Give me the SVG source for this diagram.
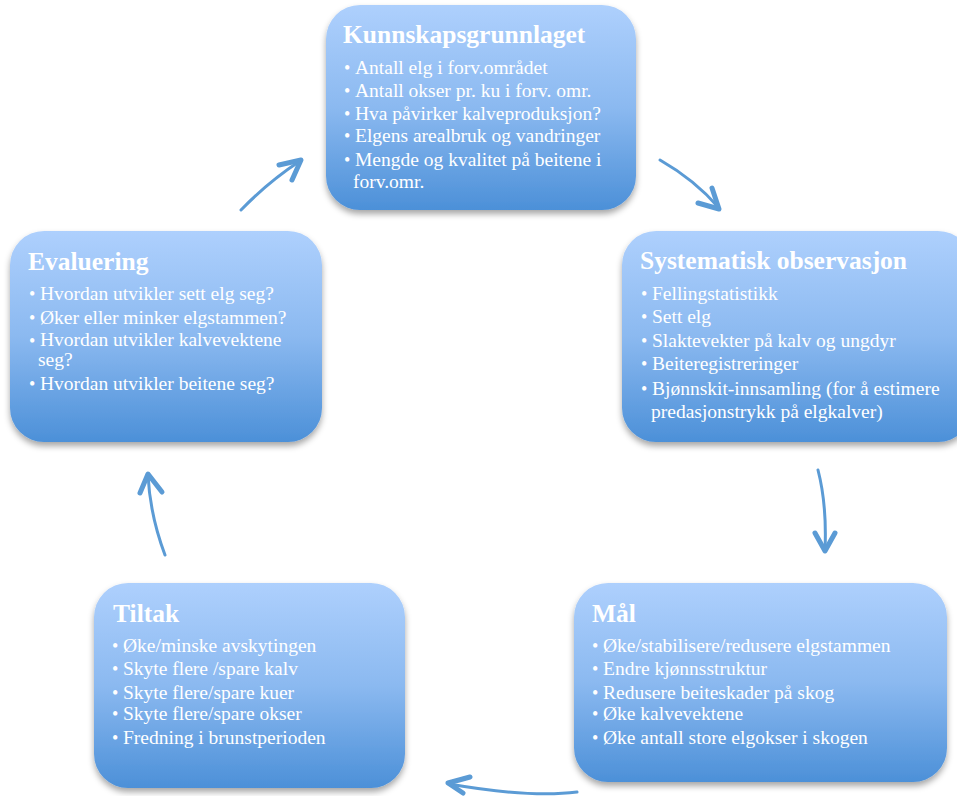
<svg xmlns="http://www.w3.org/2000/svg" width="957" height="796" viewBox="0 0 957 796">
<defs>
<linearGradient id="g" x1="0" y1="0" x2="0" y2="1">
<stop offset="0" stop-color="#aed0fd"/>
<stop offset="0.5" stop-color="#8bb9f0"/>
<stop offset="1" stop-color="#4c90d8"/>
</linearGradient>
<filter id="sh" x="-10%" y="-10%" width="120%" height="125%">
<feDropShadow dx="0" dy="4" stdDeviation="3" flood-color="#000" flood-opacity="0.35"/>
</filter>
<style>
.box{fill:url(#g);filter:url(#sh)}
.t{font-family:"Liberation Serif","DejaVu Serif",serif;font-weight:bold;font-size:25.5px;fill:#fff}
.b{font-family:"Liberation Serif","DejaVu Serif",serif;font-size:19.5px;fill:#fff}
.d{font-family:"Liberation Serif","DejaVu Serif",serif;font-size:18px;fill:#fff}
.a{fill:none;stroke:#5b9bd5;stroke-width:3;stroke-linecap:round;stroke-linejoin:round}
.h{fill:none;stroke:#5b9bd5;stroke-width:5;stroke-linecap:round;stroke-linejoin:round}
</style>
</defs>
<rect width="957" height="796" fill="#fff"/>
<g id="connectors">
<path class="a" d="M241,210 Q268,182 300,161"/>
<path class="h" d="M279,165 L301,160 L292,180"/>
<path class="a" d="M660,160 Q695,180 719,208"/>
<path class="h" d="M698,203 L719,209 L712,188"/>
<path class="a" d="M818,470 Q827,505 825,550"/>
<path class="h" d="M815,533 L825,551 L835,533"/>
<path class="a" d="M577,792 Q530,798 449,784"/>
<path class="h" d="M470,777 L448,783 L463,793"/>
<path class="a" d="M165,555 Q150,515 148,475"/>
<path class="h" d="M140,493 L148,474 L162,492"/>
</g>
<g id="kunnskapsgrunnlaget">
<rect class="box" x="326" y="5" width="310" height="205" rx="34"/>
<text class="t" x="343" y="43">Kunnskapsgrunnlaget</text>
<text class="d"><tspan x="344" y="74">•</tspan><tspan x="344" y="97">•</tspan><tspan x="344" y="120">•</tspan><tspan x="344" y="142">•</tspan><tspan x="344" y="166">•</tspan></text>
<text class="b"><tspan x="355" y="74">Antall elg i forv.området</tspan><tspan x="355" y="97">Antall okser pr. ku i forv. omr.</tspan><tspan x="355" y="120">Hva påvirker kalveproduksjon?</tspan><tspan x="355" y="142">Elgens arealbruk og vandringer</tspan><tspan x="355" y="166">Mengde og kvalitet på beitene i</tspan><tspan x="353" y="188">forv.omr.</tspan></text>
</g>
<g id="systematisk">
<rect class="box" x="622" y="231" width="350" height="211" rx="34"/>
<text class="t" x="640" y="269">Systematisk observasjon</text>
<text class="d"><tspan x="641" y="300">•</tspan><tspan x="641" y="323">•</tspan><tspan x="641" y="347">•</tspan><tspan x="641" y="370">•</tspan><tspan x="641" y="395">•</tspan></text>
<text class="b"><tspan x="652" y="300">Fellingstatistikk</tspan><tspan x="652" y="323">Sett elg</tspan><tspan x="652" y="347">Slaktevekter på kalv og ungdyr</tspan><tspan x="652" y="370">Beiteregistreringer</tspan><tspan x="652" y="395">Bjønnskit-innsamling (for å estimere</tspan><tspan x="651" y="418">predasjonstrykk på elgkalver)</tspan></text>
</g>
<g id="evaluering">
<rect class="box" x="10" y="231" width="312" height="211" rx="34"/>
<text class="t" x="28" y="270">Evaluering</text>
<text class="d"><tspan x="29" y="300">•</tspan><tspan x="29" y="324">•</tspan><tspan x="29" y="347">•</tspan><tspan x="29" y="390">•</tspan></text>
<text class="b"><tspan x="40" y="300">Hvordan utvikler sett elg seg?</tspan><tspan x="40" y="324">Øker eller minker elgstammen?</tspan><tspan x="40" y="346">Hvordan utvikler kalvevektene</tspan><tspan x="38" y="366">seg?</tspan><tspan x="40" y="390">Hvordan utvikler beitene seg?</tspan></text>
</g>
<g id="maal">
<rect class="box" x="574" y="583" width="373" height="199" rx="34"/>
<text class="t" x="592" y="622">Mål</text>
<text class="d"><tspan x="592" y="652">•</tspan><tspan x="592" y="675">•</tspan><tspan x="592" y="699">•</tspan><tspan x="592" y="720">•</tspan><tspan x="592" y="744">•</tspan></text>
<text class="b"><tspan x="603" y="652">Øke/stabilisere/redusere elgstammen</tspan><tspan x="603" y="675">Endre kjønnsstruktur</tspan><tspan x="603" y="699">Redusere beiteskader på skog</tspan><tspan x="603" y="720">Øke kalvevektene</tspan><tspan x="603" y="744">Øke antall store elgokser i skogen</tspan></text>
</g>
<g id="tiltak">
<rect class="box" x="94" y="583" width="311" height="205" rx="34"/>
<text class="t" x="113" y="622">Tiltak</text>
<text class="d"><tspan x="112" y="652">•</tspan><tspan x="112" y="675">•</tspan><tspan x="112" y="699">•</tspan><tspan x="112" y="720">•</tspan><tspan x="112" y="744">•</tspan></text>
<text class="b"><tspan x="123" y="652">Øke/minske avskytingen</tspan><tspan x="123" y="675">Skyte flere /spare kalv</tspan><tspan x="123" y="699">Skyte flere/spare kuer</tspan><tspan x="123" y="720">Skyte flere/spare okser</tspan><tspan x="123" y="744">Fredning i brunstperioden</tspan></text>
</g>
</svg>
